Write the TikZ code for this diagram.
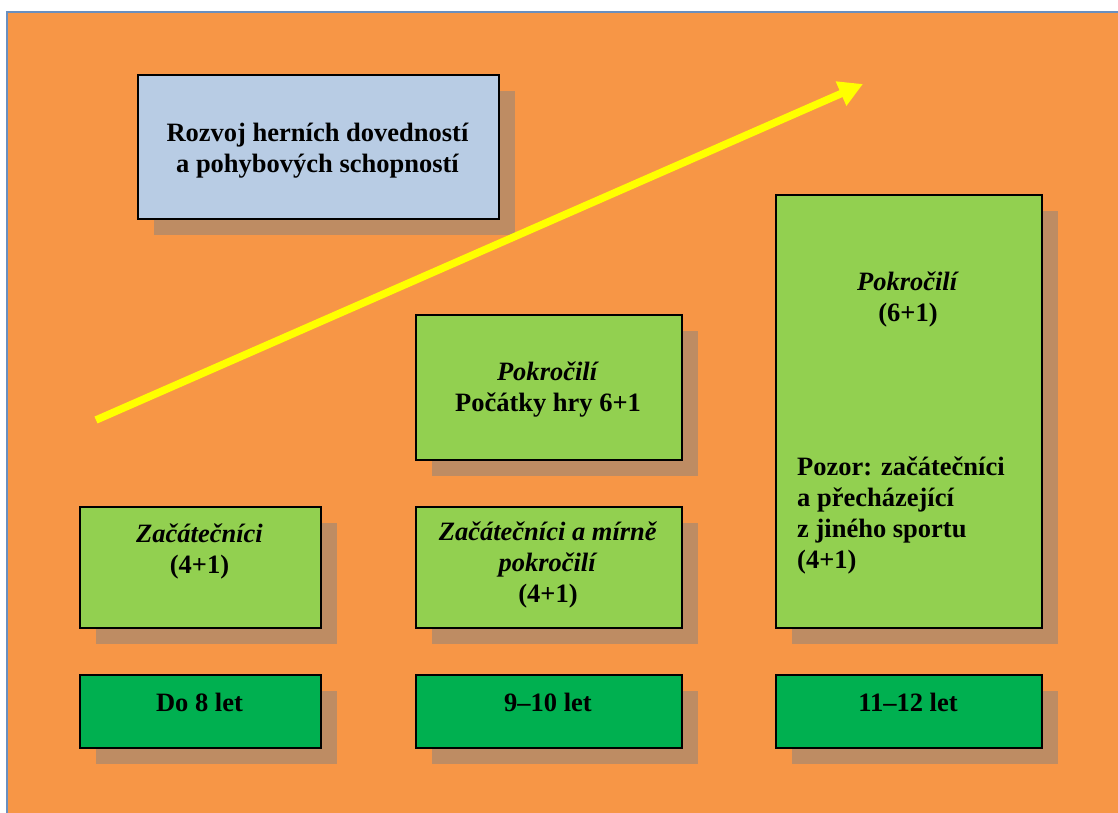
\documentclass[tikz,border=0pt]{standalone}
\usepackage{fontspec}
\setmainfont{Liberation Serif}
\usetikzlibrary{arrows.meta,shadows}

\definecolor{bgorange}{HTML}{F79646}
\definecolor{frameblue}{HTML}{6A8FBF}
\definecolor{shadowbrown}{HTML}{BE8C63}
\definecolor{lightgreen}{HTML}{92D050}
\definecolor{darkgreen}{HTML}{00B050}
\definecolor{paleblue}{HTML}{B8CCE4}
\definecolor{arrowyellow}{HTML}{FFFF00}

% stacked lines whose baseline is the first line
\newcommand\txtstack[2]{\begin{tabular}[t]{@{}#1@{}}#2\end{tabular}}

\begin{document}
\begin{tikzpicture}[x=1pt,y=-1pt,
  panel/.style={draw=black,line width=1.6pt,inner sep=0pt,anchor=north west,
    drop shadow={shadow xshift=16pt,shadow yshift=-16pt,fill=shadowbrown,opacity=1}},
  titlebox/.style={panel,fill=paleblue},
  levelbox/.style={panel,fill=lightgreen},
  agebox/.style={panel,fill=darkgreen},
  label/.style={inner sep=0pt,font=\fontsize{26.5}{31}\selectfont\bfseries}]

\useasboundingbox (0,0) rectangle (1118,812);
\clip (0,0) rectangle (1118,812);
\fill[white] (0,0) rectangle (1118,812);
\draw[frameblue,line width=1.5pt,fill=bgorange] (7,12) rectangle (1125,820);

% title box
\node[titlebox,minimum width=361pt,minimum height=144pt] (title) at (137,74) {};
\node[label,anchor=base] (titletxt) at (317.5,141)
  {\txtstack{c}{Rozvoj herních dovedností\\a pohybových schopností}};

% level boxes
\node[levelbox,minimum width=241pt,minimum height=121pt] (beg) at (79,506) {};
\node[label,anchor=base] (begtxt) at (199.5,542)
  {\txtstack{c}{\textit{Začátečníci}\\(4+1)}};

\node[levelbox,minimum width=266pt,minimum height=145pt] (advA) at (415,314) {};
\node[label,anchor=base] (advAtxt) at (548,380)
  {\txtstack{c}{\textit{Pokročilí}\\Počátky hry 6+1}};

\node[levelbox,minimum width=266pt,minimum height=121pt] (mid) at (415,506) {};
\node[label,anchor=base] (midtxt) at (548,540)
  {\txtstack{c}{\textit{Začátečníci a mírně}\\\textit{pokročilí}\\(4+1)}};

\node[levelbox,minimum width=266pt,minimum height=433pt] (advB) at (775,194) {};
\node[label,anchor=base] (advBtxt) at (908,290)
  {\txtstack{c}{\textit{Pokročilí}\\(6+1)}};
\node[label,anchor=base west] (advBnote) at (797,475)
  {\txtstack{l}{Pozor: začátečníci\\a přecházející\\z jiného sportu\\(4+1)}};

% age boxes
\node[agebox,minimum width=241pt,minimum height=73pt] (ageA) at (79,674) {};
\node[label,anchor=base] (ageAtxt) at (199.5,711) {Do 8 let};
\node[agebox,minimum width=266pt,minimum height=73pt] (ageB) at (415,674) {};
\node[label,anchor=base] (ageBtxt) at (548,711) {9–10 let};
\node[agebox,minimum width=266pt,minimum height=73pt] (ageC) at (775,674) {};
\node[label,anchor=base] (ageCtxt) at (908,711) {11–12 let};

% rising arrow
\coordinate (arrowfrom) at (96,420);
\coordinate (arrowto) at (863,84);
\draw[arrowyellow,line width=7.5pt,-{Triangle[length=24pt,width=25pt]}] (arrowfrom) -- (arrowto);
\end{tikzpicture}
\end{document}
